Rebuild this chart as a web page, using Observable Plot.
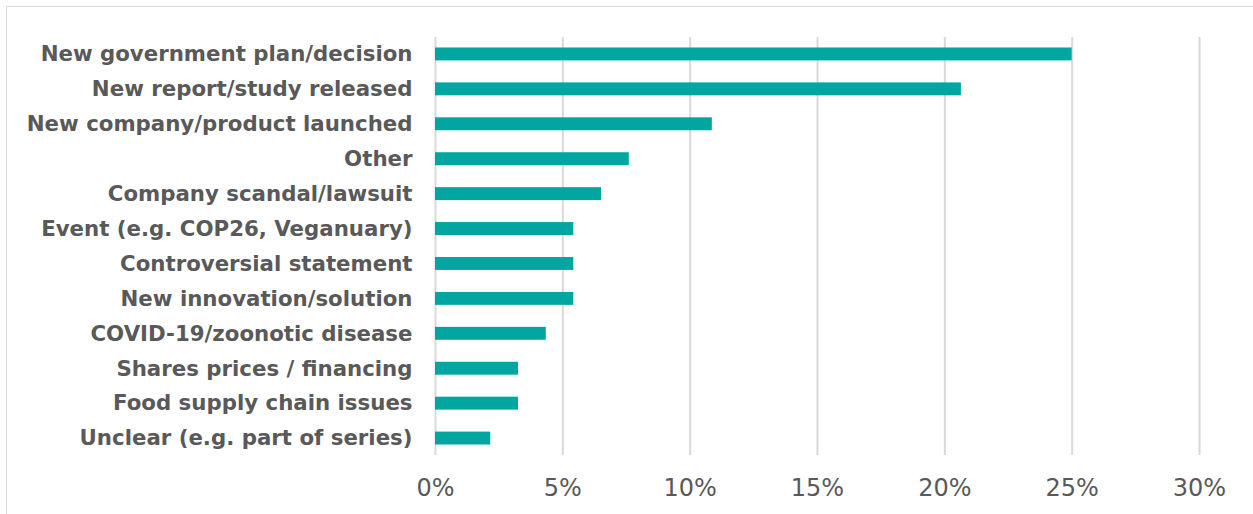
<!DOCTYPE html>
<html><head><meta charset="utf-8">
<script src="https://cdn.jsdelivr.net/npm/d3@7"></script>
<script src="https://cdn.jsdelivr.net/npm/@observablehq/plot@0.6"></script>
<style>
html,body{margin:0;padding:0;background:#fff;width:1253px;height:514px;overflow:hidden}
#frame{position:absolute;left:6px;top:6px;width:1300px;height:600px;border-top:1.5px solid #d9d9d9;border-left:1.5px solid #d9d9d9;box-sizing:border-box}
#chart{position:absolute;left:0;top:0}
</style></head>
<body><div id="frame"></div><div id="chart"></div>
<script>
const categories = [
  "New government plan/decision",
  "New report/study released",
  "New company/product launched",
  "Other",
  "Company scandal/lawsuit",
  "Event (e.g. COP26, Veganuary)",
  "Controversial statement",
  "New innovation/solution",
  "COVID-19/zoonotic disease",
  "Shares prices / financing",
  "Food supply chain issues",
  "Unclear (e.g. part of series)"
];
const values = [25.0, 20.65, 10.87, 7.61, 6.52, 5.43, 5.43, 5.43, 4.35, 3.26, 3.26, 2.17];
const xTicks = [0, 5, 10, 15, 20, 25, 30];
const data = categories.map((c, i) => ({category: c, value: values[i]}));

const chart = Plot.plot({
  width: 1253, height: 514,
  marginLeft: 435, marginRight: 54, marginTop: 37, marginBottom: 59,
  style: {fontFamily: "DejaVu Sans", background: "transparent", color: "#595959"},
  x: {domain: [0, 30], label: null},
  y: {domain: categories, paddingInner: 0.63, paddingOuter: 0.3, round: false, label: null},
  marks: [
    Plot.ruleX(xTicks, {stroke: "#d9d9d9", strokeWidth: 2, strokeOpacity: 1}),
    Plot.barX(data, {x: "value", y: "category", fill: "#00a69f"}),
    Plot.axisX({ticks: xTicks, tickSize: 0, tickPadding: 23, fontSize: 24, tickFormat: d => d + "%", label: null, fill: "#595959"}),
    Plot.axisY({tickSize: 0, tickPadding: 23, fontSize: 21.3, fontWeight: "bold", label: null, fill: "#595959"})
  ]
});
document.getElementById("chart").appendChild(chart);
</script>
</body></html>
